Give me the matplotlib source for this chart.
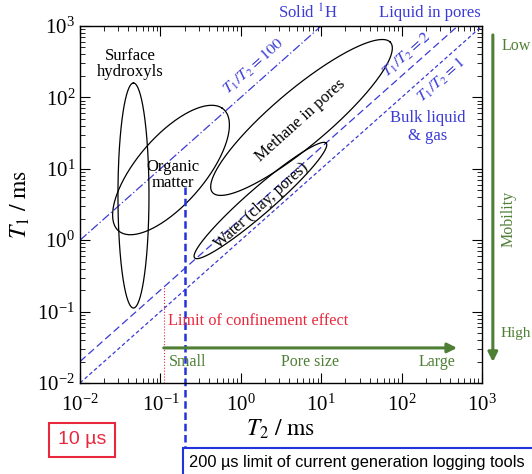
import numpy as np
import matplotlib
matplotlib.use('Agg')
import matplotlib.pyplot as plt
from matplotlib.patches import Rectangle

plt.rcParams['font.family'] = 'serif'
plt.rcParams['font.serif'] = ['Liberation Serif', 'DejaVu Serif']
plt.rcParams['mathtext.fontset'] = 'stix'

# region ellipses in log10 space: (log T2, log T1) centre, semi-axes, angle
region_names = ['Surface\nhydroxyls', 'Organic\nmatter', 'Methane in pores', 'Water (clay, pores)']
centre_x = [-1.335, -0.868, 0.755, 0.244]
centre_y = [0.626, 0.983, 1.719, 0.556]
semi_a = [1.576, 1.075, 1.527, 1.147]
semi_b = [0.193, 0.44, 0.37, 0.17]
angle_deg = [90.0, 53.9, 43.9, 44.6]

# T1/T2 ratio lines
ratios = [100, 2, 1]
ratio_t2_start = [0.01, 0.01, 0.01]
ratio_t2_end = [10, 500, 1000]

# limits
t2_confinement = 0.11
t2_logging = 0.2

blue = '#3a3ad6'
green = '#4f7f35'
red = '#e8283c'

fig = plt.figure(figsize=(5.32, 4.74), dpi=100)
ax = fig.add_axes([80/532, 1-383/474, 402/532, 357/474])
ax.set_xscale('log')
ax.set_yscale('log')
ax.set_xlim(1e-2, 1e3)
ax.set_ylim(1e-2, 1e3)

# ratio lines
styles = [(0, (7, 2, 1, 2)), (0, (6, 3)), (0, (3, 2))]
for r, s, e, ls in zip(ratios, ratio_t2_start, ratio_t2_end, styles):
    t2 = np.array([s, e])
    ax.plot(t2, r * t2, color=blue, lw=0.9, linestyle=ls)

# ellipses
t = np.linspace(0, 2 * np.pi, 300)
for cx, cy, a, b, ang in zip(centre_x, centre_y, semi_a, semi_b, angle_deg):
    th = np.deg2rad(ang)
    lx = cx + a * np.cos(t) * np.cos(th) - b * np.sin(t) * np.sin(th)
    ly = cy + a * np.cos(t) * np.sin(th) + b * np.sin(t) * np.cos(th)
    ax.plot(10 ** lx, 10 ** ly, color='black', lw=0.9)

ax.text(0.042, 294, region_names[0], ha='center', va='center', fontsize=12, linespacing=1.05)
ax.text(0.1435, 8.2, region_names[1], ha='center', va='center', fontsize=12, linespacing=1.05)
ax.text(5.45, 48.2, region_names[2], ha='center', va='center', fontsize=12, rotation=42)
ax.text(1.8, 3.0, region_names[3], ha='center', va='center', fontsize=11.5, rotation=42)

ax.text(1.46, 275, r'$T_1/T_2 = 100$', color=blue, ha='center', va='center', fontsize=11.5, rotation=41.6)
ax.text(116.6, 393, r'$T_1/T_2 = 2$', color=blue, ha='center', va='center', fontsize=11.5, rotation=41.6)
ax.text(309, 175, r'$T_1/T_2 = 1$', color=blue, ha='center', va='center', fontsize=11.5, rotation=41.6)
ax.text(213, 38.5, 'Bulk liquid\n& gas', color=blue, ha='center', va='center', fontsize=12, linespacing=1.1)
ax.text(0.567, 1.036, 'Solid $^1$H', color=blue, transform=ax.transAxes, ha='center', va='center', fontsize=12)
ax.text(0.871, 1.036, 'Liquid in pores', color=blue, transform=ax.transAxes, ha='center', va='center', fontsize=12)

# confinement limit
ax.plot([t2_confinement, t2_confinement], [0.01, 2 * t2_confinement], color=red, lw=0.8, linestyle=':')
ax.text(0.124, 0.074, 'Limit of confinement effect', color=red, ha='left', va='center', fontsize=11.7)

# pore size arrow
ax.annotate('', xy=(490, 0.031), xytext=(t2_confinement, 0.031),
            arrowprops=dict(arrowstyle='-|>', color=green, lw=2.2, mutation_scale=14, shrinkA=0, shrinkB=0))
ax.text(0.22, 0.0197, 'Small', color=green, ha='center', va='center', fontsize=11.5)
ax.text(7.26, 0.0197, 'Pore size', color=green, ha='center', va='center', fontsize=11.5)
ax.text(275, 0.0197, 'Large', color=green, ha='center', va='center', fontsize=11.5)

# mobility arrow
ax.annotate('', xy=(1.027, 0.059), xytext=(1.027, 0.975), xycoords='axes fraction',
            arrowprops=dict(arrowstyle='-|>', color=green, lw=2.2, mutation_scale=14, shrinkA=0, shrinkB=0),
            annotation_clip=False)
ax.text(1.085, 0.943, 'Low', color=green, transform=ax.transAxes, ha='center', va='center', fontsize=11.5)
ax.text(1.085, 0.14, 'High', color=green, transform=ax.transAxes, ha='center', va='center', fontsize=11)
ax.text(1.065, 0.46, 'Mobility', color=green, transform=ax.transAxes, ha='center', va='center',
        fontsize=11.5, rotation=90)

# 200 us logging limit
ax.plot([t2_logging, t2_logging], [5.6, 10 ** -2.91], color='#2233dd', lw=1.8,
        linestyle=(0, (3, 1.5)), clip_on=False)

ax.set_xlabel(r'$T_2\ /\ \mathrm{ms}$', fontsize=17, labelpad=2)
ax.set_ylabel(r'$T_1\ /\ \mathrm{ms}$', fontsize=17, labelpad=4)
ax.tick_params(which='both', direction='in', top=True, right=True, labelsize=15)
ax.tick_params(which='major', length=7, width=0.8)
ax.tick_params(which='minor', length=3.5, width=0.6)
ax.tick_params(axis='x', pad=8)
for sp in ax.spines.values():
    sp.set_linewidth(1.0)

# boxes below the plot
fig.text(82/532, 1-440/474, '10 \u00b5s', color=red, family='Liberation Sans', fontsize=14,
         ha='center', va='center',
         bbox=dict(boxstyle='square,pad=0.45', facecolor='white', edgecolor=red, lw=1.5))
fig.patches.append(Rectangle((183/532, -0.01), 0.7, (474-448)/474 + 0.01, transform=fig.transFigure,
                             facecolor='white', edgecolor='#2233dd', lw=1.5))
fig.text(189/532, 1-462/474, '200 \u00b5s limit of current generation logging tools', color='black',
         family='Liberation Sans', fontsize=11.8, ha='left', va='center')

fig.savefig('out.png', dpi=100)
